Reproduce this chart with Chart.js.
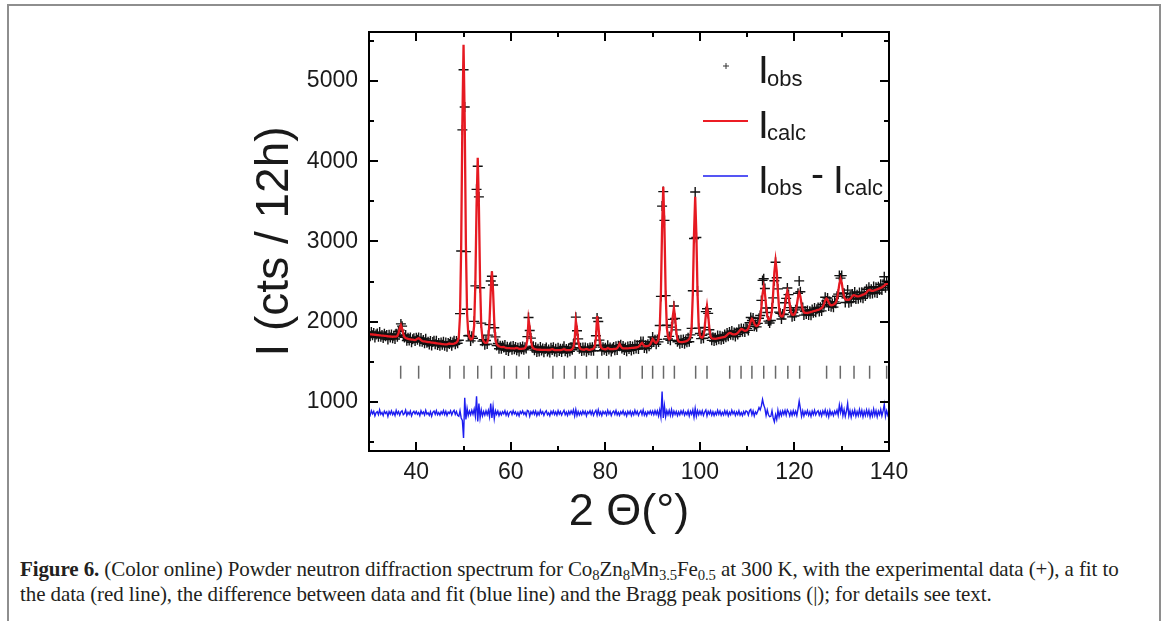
<!DOCTYPE html>
<html><head><meta charset="utf-8">
<script src="https://cdn.jsdelivr.net/npm/chart.js@4.4.0/dist/chart.umd.min.js"></script>
<style>
html,body{margin:0;padding:0;background:#fff;}
body{width:1167px;height:621px;position:relative;overflow:hidden;}
#frame{position:absolute;left:7px;top:4px;width:1150px;height:700px;border:2px solid #8e8e8e;border-bottom:none;}
#wrap{position:absolute;left:0;top:0;width:1167px;height:540px;}
#cap{position:absolute;left:20px;top:557px;font-family:"Liberation Serif",serif;font-size:21px;line-height:25px;color:#231f20;white-space:nowrap;letter-spacing:-0.1px;}
#cap sub{font-size:0.7em;vertical-align:-0.3em;line-height:0;}
</style></head>
<body>
<div id="frame"></div>
<div id="wrap"><canvas id="c"></canvas></div>
<div id="cap"><b>Figure 6.</b> (Color online) Powder neutron diffraction spectrum for Co<sub>8</sub>Zn<sub>8</sub>Mn<sub>3.5</sub>Fe<sub>0.5</sub> at 300 K, with the experimental data (+), a fit to<br>the data (red line), the difference between data and fit (blue line) and the Bragg peak positions (|); for details see text.</div>
<script>
// 2-theta grid of the measurement (start / step), degrees
const twoThetaStart = 30;
const twoThetaStep = 0.25;

// I_calc (red line), one row per 5 degrees
const iCalc = [
1845,1843,1842,1840,1838,1837,1835,1833,1832,1830,1828,1827,1825,1823,1822,1820,1818,1817,1815,1813,
1812,1813,1813,1813,1822,1857,1919,1957,1914,1848,1809,1796,1791,1786,1781,1779,1777,1775,1772,1770,
1778,1788,1794,1784,1769,1759,1755,1753,1751,1749,1746,1744,1742,1740,1738,1736,1734,1731,1729,1727,
1725,1723,1721,1719,1718,1717,1716,1723,1727,1722,1722,1724,1727,1732,1740,1758,1808,2070,2940,4480,
5450,4486,2953,2095,1854,1803,1780,1782,1808,1954,2486,3439,4042,3435,2483,1942,1792,1754,1738,1735,
1740,1797,2008,2386,2626,2377,1995,1780,1718,1702,1693,1687,1683,1682,1685,1678,1672,1671,1670,1669,
1668,1667,1666,1665,1670,1672,1668,1662,1660,1660,1663,1665,1670,1694,1778,2026,1929,1777,1692,1667,
1660,1656,1652,1651,1650,1650,1649,1649,1648,1648,1648,1647,1647,1647,1652,1657,1652,1646,1646,1645,
1645,1645,1645,1648,1653,1657,1652,1646,1645,1645,1646,1649,1658,1682,1767,2011,1916,1766,1683,1659,
1653,1651,1650,1656,1660,1655,1649,1649,1654,1657,1665,1692,1789,2070,1962,1790,1693,1667,1660,1657,
1656,1660,1671,1666,1659,1657,1658,1659,1660,1662,1670,1690,1722,1694,1674,1667,1666,1667,1667,1668,
1669,1671,1672,1674,1675,1677,1678,1683,1687,1700,1722,1734,1714,1697,1694,1696,1698,1703,1718,1748,
1783,1765,1743,1734,1751,1783,1912,2365,3170,3681,3172,2370,1926,1804,1781,1795,1887,2059,2170,2057,
1877,1779,1752,1748,1745,1745,1747,1751,1754,1760,1769,1785,1813,1931,2346,3086,3555,3088,2351,1939,
1827,1806,1800,1821,1914,2085,2195,2081,1911,1817,1792,1788,1788,1786,1789,1792,1795,1798,1801,1804,
1807,1810,1821,1834,1849,1858,1856,1848,1842,1842,1842,1850,1859,1876,1895,1908,1904,1893,1885,1889,
1895,1916,1957,2007,2035,2017,1977,1951,1945,1954,1973,2036,2175,2344,2435,2354,2200,2074,2027,2028,
2054,2144,2357,2619,2760,2627,2373,2164,2084,2064,2066,2104,2200,2315,2380,2322,2210,2119,2088,2083,
2091,2122,2204,2304,2358,2312,2220,2147,2117,2110,2109,2108,2112,2116,2121,2125,2130,2134,2138,2143,
2147,2151,2160,2169,2187,2222,2264,2288,2273,2240,2213,2205,2207,2211,2222,2238,2279,2368,2474,2533,
2484,2387,2308,2278,2271,2273,2272,2283,2299,2318,2331,2329,2321,2316,2316,2319,2325,2330,2336,2341,
2351,2363,2383,2394,2395,2385,2385,2387,2392,2398,2403,2409,2415,2420,2429,2439,2449,2463,2473,2474,
2472];

// I_obs (crosses)
const iObs = [
1857,1818,1872,1832,1860,1802,1840,1851,1812,1870,1813,1835,1795,1848,1817,1835,1778,1837,1803,1841,
1794,1823,1783,1848,1812,1877,1894,1972,1944,1828,1804,1834,1763,1798,1766,1804,1742,1780,1794,1760,
1798,1773,1802,1752,1797,1751,1770,1731,1786,1737,1751,1716,1760,1702,1748,1761,1719,1761,1709,1735,
1700,1741,1711,1751,1700,1739,1686,1735,1722,1750,1700,1739,1762,1717,1760,1730,1768,2100,2880,4390,
5140,4676,2873,2155,1824,1828,1760,1817,1793,2004,2446,3649,3937,3555,2423,1982,1757,1774,1713,1765,
1720,1832,1963,2506,2566,2457,1925,1810,1703,1727,1663,1699,1661,1700,1677,1708,1647,1686,1635,1679,
1690,1649,1696,1655,1685,1644,1676,1627,1680,1655,1691,1650,1680,1664,1813,2051,1889,1795,1680,1693,
1645,1681,1622,1663,1628,1685,1641,1667,1620,1658,1678,1627,1652,1615,1674,1647,1680,1628,1661,1620,
1675,1633,1663,1623,1661,1692,1632,1658,1615,1667,1631,1677,1650,1722,1732,2056,1886,1786,1661,1674,
1633,1679,1640,1678,1625,1670,1644,1679,1636,1682,1637,1702,1824,2045,2002,1770,1708,1637,1682,1649,
1674,1635,1706,1654,1679,1627,1666,1684,1645,1694,1648,1700,1694,1712,1666,1697,1646,1679,1632,1690,
1659,1696,1642,1689,1655,1712,1666,1705,1659,1708,1752,1716,1754,1672,1706,1664,1718,1695,1746,1733,
1808,1745,1773,1719,1779,1748,1952,2315,3440,3621,3262,2325,1956,1784,1816,1767,1932,2029,2195,2039,
1897,1749,1767,1726,1773,1735,1779,1726,1766,1742,1799,1750,1835,1916,2386,3036,3615,3048,2381,1919,
1852,1788,1830,1793,1929,2125,2160,2103,1899,1845,1767,1806,1758,1798,1769,1827,1780,1823,1773,1814,
1785,1840,1806,1859,1817,1870,1836,1883,1832,1864,1814,1865,1841,1906,1870,1916,1874,1913,1870,1917,
1913,1891,1987,2052,2015,2045,1942,1966,1935,1979,2043,2076,2265,2514,2535,2414,2170,2114,2007,1983,
2014,2174,2297,2509,2740,2547,2408,2119,2104,2034,2094,2089,2235,2290,2420,2337,2175,2141,2060,2113,
2071,2147,2174,2354,2508,2372,2180,2175,2082,2130,2094,2140,2084,2131,2081,2150,2112,2169,2116,2155,
2177,2126,2178,2134,2215,2210,2304,2258,2295,2195,2248,2185,2222,2181,2247,2228,2317,2343,2574,2543,
2574,2357,2353,2238,2296,2393,2237,2313,2249,2346,2309,2369,2283,2336,2286,2364,2300,2365,2291,2363,
2321,2403,2358,2429,2347,2405,2350,2437,2364,2428,2358,2434,2395,2465,2394,2467,2559,2423,2503,2449,
2492];

// I_obs - I_calc (blue line, drawn with its offset as in the figure)
const iDiff = [
872,835,890,852,882,825,865,878,840,900,845,868,830,885,855,875,820,880,848,888,
842,870,830,895,850,880,835,875,890,840,855,898,832,872,845,885,825,865,882,850,
880,845,868,828,888,852,875,838,895,848,865,832,878,822,870,885,845,890,840,868,
835,878,850,892,842,882,830,872,855,888,838,875,895,845,880,832,820,890,800,770,
550,1050,780,920,830,885,840,895,845,910,820,1070,755,980,800,900,825,880,835,890,
840,895,815,980,800,940,790,890,845,885,830,872,838,878,852,890,835,875,825,870,
882,842,890,850,875,832,868,825,880,855,888,845,870,830,895,885,820,878,848,886,
845,885,830,872,838,895,852,878,832,870,890,840,865,828,882,850,888,842,875,835,
890,848,878,835,868,895,840,872,830,882,845,888,852,900,825,905,830,880,838,875,
840,888,850,882,825,875,855,890,842,885,832,870,895,835,900,840,875,830,882,852,
878,835,895,848,880,830,868,885,845,892,838,870,832,878,852,890,840,872,825,882,
850,885,830,875,840,895,848,882,832,868,890,842,900,835,872,828,880,852,888,845,
885,840,890,845,888,825,900,810,1130,800,950,815,890,840,895,832,905,830,885,842,
880,830,875,838,888,850,892,835,872,842,890,825,882,845,900,810,920,820,890,840,
885,842,890,832,875,900,825,882,848,888,835,878,830,872,840,895,845,885,832,870,
838,890,845,885,828,872,840,895,850,882,832,875,842,890,835,868,830,880,845,888,
878,835,890,905,840,888,825,875,850,885,930,900,950,1030,960,920,830,900,840,815,
820,890,800,750,840,780,895,815,880,830,888,845,895,835,900,875,825,882,832,890,
840,885,830,910,1010,920,820,888,825,880,845,892,832,875,820,885,842,895,838,872,
890,835,878,825,888,848,900,830,882,815,895,840,875,830,885,850,898,835,960,870,
950,830,905,820,885,980,825,890,810,888,838,900,822,880,830,905,835,895,815,882,
830,900,835,895,812,880,825,910,832,890,815,885,840,905,825,888,970,820,890,835,
880];

// Bragg peak positions (2-theta, degrees)
const braggPositions = [36.7,40.5,47.1,50.1,53.0,55.9,58.6,61.2,63.8,68.9,71.3,73.6,76.0,78.3,80.7,83.1,
  87.8,90.0,92.3,94.6,99.1,101.5,106.3,108.7,111.0,113.5,116.0,118.6,121.1,126.8,129.7,132.6,135.9,139.5];
const braggLevel = 1370;

const xTickLabels = [40, 60, 80, 100, 120, 140];
const yTickLabels = [1000, 2000, 3000, 4000, 5000];
const xRange = [30, 140];
const yRange = [388, 5610];

const twoTheta = iCalc.map((_, i) => twoThetaStart + i * twoThetaStep);
const pts = arr => arr.map((v, i) => ({x: twoTheta[i], y: v}));

const FONT = '"Liberation Sans", Arial, sans-serif';

const framePlugin = {
  id: 'frame',
  afterDatasetsDraw(chart) {
    const {ctx, chartArea: a, scales: {x, y}} = chart;
    ctx.save();
    ctx.strokeStyle = '#000';
    ctx.lineWidth = 2;
    ctx.strokeRect(a.left, a.top, a.right - a.left, a.bottom - a.top);
    ctx.beginPath();
    for (let v = 500; v <= 5500; v += 500) {
      const p = Math.round(y.getPixelForValue(v));
      const L = v % 1000 === 0 ? 9 : 5;
      ctx.moveTo(a.left, p); ctx.lineTo(a.left + L, p);
      ctx.moveTo(a.right, p); ctx.lineTo(a.right - L, p);
    }
    for (let v = 40; v < 140; v += 10) {
      const p = Math.round(x.getPixelForValue(v));
      const L = v % 20 === 0 ? 9 : 5;
      ctx.moveTo(p, a.bottom); ctx.lineTo(p, a.bottom - L);
      ctx.moveTo(p, a.top); ctx.lineTo(p, a.top + L);
    }
    ctx.stroke();

    // legend
    ctx.fillStyle = '#1a1a1a';
    ctx.strokeStyle = '#333';
    ctx.lineWidth = 1;
    ctx.beginPath();
    ctx.moveTo(723, 66); ctx.lineTo(729, 66);
    ctx.moveTo(726, 63); ctx.lineTo(726, 69);
    ctx.stroke();
    ctx.lineWidth = 2.2;
    ctx.strokeStyle = '#ec1c24';
    ctx.beginPath(); ctx.moveTo(703, 121); ctx.lineTo(748, 121); ctx.stroke();
    ctx.lineWidth = 1.6;
    ctx.strokeStyle = '#1d1df0';
    ctx.beginPath(); ctx.moveTo(703, 176); ctx.lineTo(748, 176); ctx.stroke();

    ctx.textBaseline = 'alphabetic';
    ctx.textAlign = 'left';
    const big = '39px ' + FONT, small = '22px ' + FONT;
    ctx.font = big; ctx.fillText('I', 758, 83);
    ctx.font = small; ctx.fillText('obs', 767, 86);
    ctx.font = big; ctx.fillText('I', 758, 138);
    ctx.font = small; ctx.fillText('calc', 767, 140);
    ctx.font = big; ctx.fillText('I', 758, 193);
    ctx.font = small; ctx.fillText('obs', 767, 195);
    ctx.font = big; ctx.fillText('-', 811, 187);
    ctx.font = big; ctx.fillText('I', 833, 193);
    ctx.font = small; ctx.fillText('calc', 844, 195);
    ctx.restore();
  }
};

new Chart(document.getElementById('c'), {
  type: 'line',
  data: {
    datasets: [
      {label: 'Icalc', data: pts(iCalc), borderColor: '#e61a22', borderWidth: 2.3, pointRadius: 0, tension: 0, order: 0},
      {label: 'Iobs - Icalc', data: pts(iDiff), borderColor: '#1d1df0', borderWidth: 1.4, pointRadius: 0, tension: 0, order: 1},
      {label: 'Iobs', data: pts(iObs), showLine: false, pointStyle: 'cross', pointRadius: 5,
       pointBorderWidth: 1.4, pointBorderColor: '#111', borderColor: '#111', order: 2},
      {label: 'Bragg', data: braggPositions.map(p => ({x: p, y: braggLevel})), showLine: false,
       pointStyle: 'line', rotation: 90, pointRadius: 6.5, pointBorderWidth: 1.5,
       pointBorderColor: '#6a6a6a', borderColor: '#6a6a6a', order: 3}
    ]
  },
  options: {
    responsive: true,
    maintainAspectRatio: false,
    animation: false,
    events: [],
    layout: {padding: {left: 0, top: 32, right: 278, bottom: 0}},
    plugins: {legend: {display: false}, tooltip: {enabled: false}},
    scales: {
      x: {
        type: 'linear', min: xRange[0], max: xRange[1],
        grid: {display: false, drawTicks: false}, border: {display: false},
        afterFit: s => { s.height = 89; },
        afterBuildTicks: s => { s.ticks = xTickLabels.map(v => ({value: v})); },
        ticks: {font: {family: FONT, size: 23}, color: '#1a1a1a', padding: 8, maxRotation: 0, autoSkip: false,
                callback: v => String(v)},
        title: {display: true, text: '2 \u0398(\u00b0)', font: {family: FONT, size: 45}, color: '#1a1a1a', padding: {top: 14, bottom: 0}}
      },
      y: {
        type: 'linear', min: yRange[0], max: yRange[1],
        grid: {display: false, drawTicks: false}, border: {display: false},
        afterFit: s => { s.width = 369; },
        afterBuildTicks: s => { s.ticks = yTickLabels.map(v => ({value: v})); },
        ticks: {font: {family: FONT, size: 23}, color: '#1a1a1a', padding: 11, callback: v => String(v)},
        title: {display: true, text: 'I (cts / 12h)', font: {family: FONT, size: 46}, color: '#1a1a1a', padding: {top: 248, bottom: 0}}
      }
    }
  },
  plugins: [framePlugin]
});
</script>
</body></html>
